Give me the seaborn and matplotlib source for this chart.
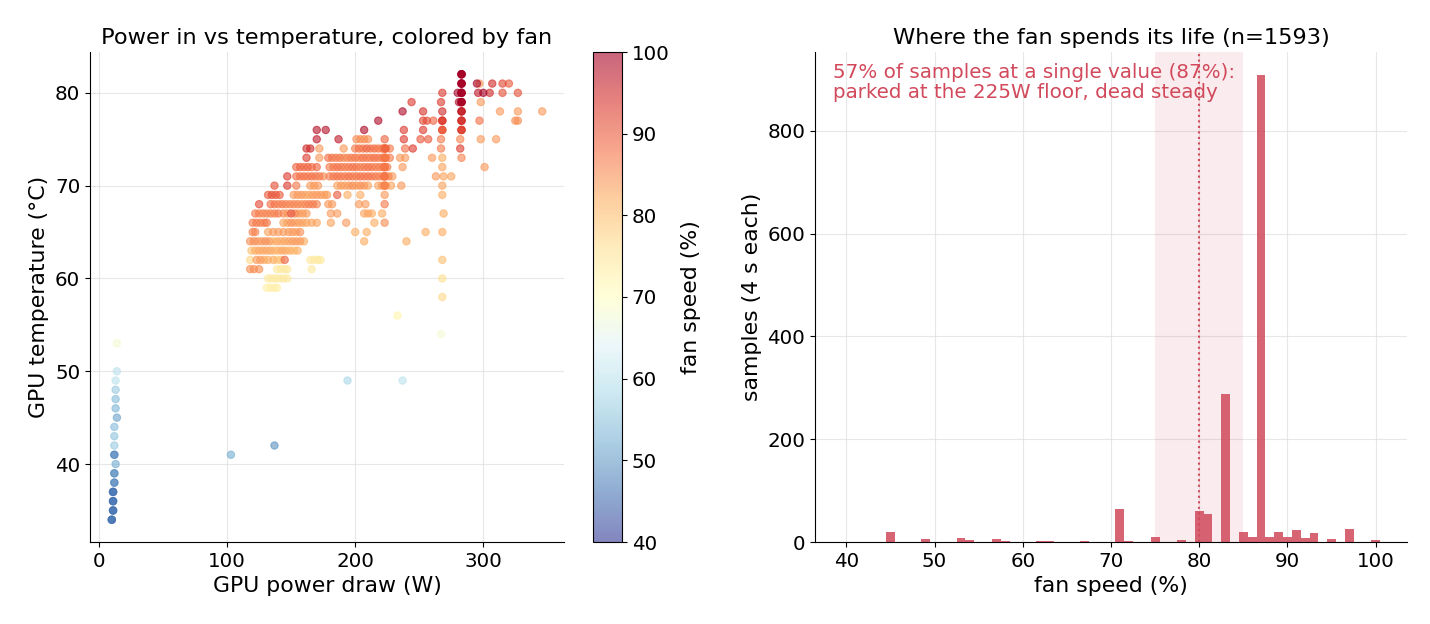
import numpy as np
import pandas as pd
import matplotlib
matplotlib.use("Agg")
import matplotlib.pyplot as plt
import seaborn as sns
from matplotlib.colors import ListedColormap, Normalize

# scatter: one row per temperature step, powers (W) and fan speeds (%)
row_temps = [82, 81, 80, 79, 78, 77, 76, 75, 74, 73, 72, 71, 70, 69, 68, 67, 66,
             65, 64, 63, 62, 61, 60, 59, 58, 56, 54]
row_powers = [
    [283],
    [283, 295, 297, 307, 315, 320],
    [268, 280, 283, 296, 300, 305, 315, 327],
    [244, 267, 281, 283, 298],
    [237, 253, 268, 283, 313, 327, 346],
    [218, 253, 256, 261, 268, 283, 297, 325, 327],
    [170, 177, 207, 238, 253, 268, 283],
    [170, 187, 201, 204, 207, 210, 223, 238, 251, 257, 267, 282, 298, 310],
    [162, 165, 172, 191, 200, 203, 206, 209, 212, 215, 218, 221, 224, 227, 239, 245, 267, 282],
    [162, 172, 179, 182, 185, 188, 191, 194, 197, 200, 203, 206, 209, 212, 215, 218, 221, 224,
     227, 235, 239, 260, 268, 283],
    [154, 157, 160, 163, 166, 170, 180, 183, 186, 189, 192, 195, 198, 201, 204, 207, 210, 213,
     216, 219, 222, 225, 237, 268, 301],
    [147, 154, 157, 160, 163, 166, 169, 172, 175, 180, 183, 186, 189, 192, 195, 198, 201, 204,
     207, 210, 213, 216, 219, 222, 226, 229, 263, 269, 275],
    [137, 147, 154, 165, 168, 171, 186, 189, 192, 195, 198, 201, 204, 207, 210, 218, 221, 224,
     228, 236, 268],
    [132, 135, 138, 141, 152, 155, 158, 161, 164, 167, 170, 173, 176, 178, 186, 194, 204, 223, 268],
    [125, 134, 137, 140, 143, 146, 149, 152, 155, 158, 161, 164, 167, 170, 179, 182, 203, 208, 223],
    [122, 125, 128, 131, 134, 137, 140, 144, 147, 150, 153, 156, 159, 162, 181, 186, 207, 210,
     213, 221, 269],
    [120, 123, 126, 129, 131, 144, 147, 150, 153, 156, 159, 162, 166, 170, 181, 193, 215, 223],
    [120, 122, 132, 136, 140, 144, 148, 151, 154, 157, 200, 209, 255, 268],
    [118, 121, 124, 127, 130, 133, 136, 139, 142, 145, 148, 151, 154, 157, 160, 207, 240],
    [119, 122, 125, 128, 131, 134, 137, 140, 143, 146, 149, 152, 155],
    [118, 123, 126, 129, 132, 136, 139, 142, 145, 165, 168, 171, 173, 268],
    [118, 121, 125, 139, 142, 145, 147, 166],
    [132, 135, 138, 141, 144, 147, 268],
    [131, 134, 137, 139],
    [268],
    [233],
    [267],
]
row_fans = [
    [100],
    [100, 100, 84, 95, 92, 90],
    [93, 100, 100, 97, 100, 95, 91, 91],
    [93, 93, 99, 100, 84],
    [99, 94, 95, 97, 84, 84, 84],
    [99, 92, 91, 89, 93, 95, 88, 85, 85],
    [98, 98, 99, 93, 93, 90, 93],
    [97, 97, 85, 85, 85, 85, 89, 93, 90, 90, 87, 86, 84, 84],
    [95, 95, 84, 84, 87, 88, 87, 89, 87, 88, 87, 87, 89, 87, 88, 93, 87, 93],
    [93, 84, 88, 87, 87, 87, 85, 86, 87, 87, 86, 88, 87, 87, 88, 87, 87, 86,
     87, 84, 84, 84, 82, 86],
    [89, 89, 88, 89, 88, 89, 87, 87, 88, 87, 87, 87, 88, 87, 87, 87, 88, 87,
     87, 87, 87, 87, 84, 83, 84],
    [93, 88, 87, 88, 87, 88, 87, 87, 85, 87, 87, 88, 87, 87, 88, 87, 87, 88,
     87, 88, 87, 87, 86, 87, 86, 84, 84, 83, 83],
    [91, 93, 87, 84, 84, 84, 83, 84, 83, 84, 85, 83, 85, 84, 83, 83, 84, 83,
     83, 84, 83],
    [90, 91, 90, 90, 84, 84, 84, 83, 83, 84, 84, 84, 83, 84, 90, 82, 82, 84, 82],
    [92, 88, 87, 86, 87, 86, 86, 86, 86, 85, 86, 87, 87, 86, 84, 84, 84, 84, 87],
    [87, 86, 86, 86, 86, 86, 87, 85, 84, 91, 86, 84, 84, 84, 84, 84, 83, 83,
     82, 82, 82],
    [87, 87, 87, 86, 87, 83, 83, 85, 83, 84, 83, 83, 83, 83, 83, 84, 82, 85],
    [86, 86, 83, 84, 84, 84, 84, 84, 83, 85, 82, 82, 82, 82],
    [85, 85, 84, 84, 85, 84, 80, 83, 82, 83, 83, 84, 84, 84, 82, 82, 82],
    [80, 82, 83, 83, 83, 83, 81, 82, 83, 82, 82, 80, 82],
    [77, 84, 84, 82, 82, 82, 78, 80, 89, 74, 74, 74, 74, 80],
    [85, 85, 85, 74, 74, 74, 74, 74],
    [74, 74, 74, 74, 74, 74, 76],
    [73, 73, 73, 73],
    [77],
    [72],
    [68],
]

# spots where many samples sit on top of each other (power, temp, fan, how many)
stack_power = [283, 283, 283, 283, 283, 283, 283, 223, 223, 223, 223, 223, 268, 268]
stack_temp = [82, 81, 80, 79, 78, 77, 76, 74, 73, 72, 71, 70, 77, 76]
stack_fan = [100, 100, 99, 98, 95, 93, 92, 88, 87, 87, 87, 86, 92, 90]
stack_n = [3, 3, 3, 3, 2, 2, 2, 3, 3, 3, 3, 2, 2, 2]

# idle / low-power samples (mostly near 12 W)
idle_power = [14, 14, 13, 13, 13, 13, 14, 12, 12, 12, 12, 13, 12, 12, 11, 11, 11, 10, 103, 137, 194, 237]
idle_temp = [53, 50, 49, 48, 47, 46, 45, 44, 43, 42, 41, 40, 39, 38, 37, 36, 35, 34, 41, 42, 49, 49]
idle_fan = [68, 60, 60, 56, 54, 53, 51, 54, 55, 56, 48, 52, 49, 48, 46, 46, 46, 46, 52, 49, 58, 60]
idle_n = [1, 1, 1, 1, 1, 1, 1, 1, 1, 1, 2, 1, 2, 2, 3, 3, 3, 3, 1, 1, 1, 1]

# histogram of fan speed (count of 4 s samples per integer %)
hist_fan = [45, 49, 53, 54, 57, 58, 62, 63, 67, 71, 72, 75, 78, 80, 81, 83, 85, 86, 87,
            88, 89, 90, 91, 92, 93, 95, 97, 100]
hist_count = [19, 5, 7, 3, 5, 2, 2, 2, 2, 65, 2, 10, 4, 61, 54, 288, 20, 10, 908,
              10, 20, 10, 23, 8, 18, 6, 25, 4]

RED = "#d1495b"

rows = []
for t, ps, fs in zip(row_temps, row_powers, row_fans):
    for p, f in zip(ps, fs):
        rows.append((p, t, f))
for p, t, f, k in zip(stack_power, stack_temp, stack_fan, stack_n):
    rows += [(p, t, f)] * k
for p, t, f, k in zip(idle_power, idle_temp, idle_fan, idle_n):
    rows += [(p, t, f)] * k
df = pd.DataFrame(rows, columns=["power", "temp", "fan"]).sort_values("fan", kind="stable")

hist_df = pd.DataFrame({"fan": hist_fan, "count": hist_count})
n_total = int(hist_df["count"].sum())

fig = plt.figure(figsize=(14.3, 6.24), dpi=100)
ax1 = fig.add_axes([90 / 1430, 82 / 624, 474 / 1430, 490 / 624])
cax = fig.add_axes([593 / 1430, 82 / 624, 29 / 1430, 490 / 624])
ax2 = fig.add_axes([815 / 1430, 82 / 624, 592 / 1430, 490 / 624])

FS = 14.3   # ticks
LS = 15.8   # axis labels
TS = 16.2   # titles

# --- left: scatter power vs temp
sns.scatterplot(data=df, x="power", y="temp", hue="fan", palette="RdYlBu_r",
                hue_norm=(40, 100), alpha=0.6, s=28, edgecolor="face", linewidth=0.8,
                legend=False, ax=ax1)
ax1.set_title("Power in vs temperature, colored by fan", fontsize=TS)
ax1.set_xlabel("GPU power draw (W)", fontsize=LS)
ax1.set_ylabel("GPU temperature (°C)", fontsize=LS)
ax1.set_xlim(-7, 363)
ax1.set_ylim(31.6, 84.4)
ax1.set_xticks([0, 100, 200, 300])
ax1.set_yticks([40, 50, 60, 70, 80])
ax1.tick_params(labelsize=FS)
ax1.grid(True, color="#dddddd", linewidth=0.8, alpha=0.7)
ax1.set_axisbelow(True)
sns.despine(ax=ax1)

cols = plt.get_cmap("RdYlBu_r")(np.linspace(0, 1, 256))
cols[:, 3] = 0.6
sm = plt.cm.ScalarMappable(cmap=ListedColormap(cols), norm=Normalize(40, 100))
cbar = fig.colorbar(sm, cax=cax)
cbar.set_label("fan speed (%)", fontsize=LS, labelpad=8)
cbar.ax.tick_params(labelsize=FS)

# --- right: histogram of fan speed
sns.histplot(data=hist_df, x="fan", weights="count", binwidth=1, binrange=(39.5, 100.5),
             color=RED, alpha=0.85, linewidth=0, ax=ax2)
ax2.axvspan(75, 85, color=RED, alpha=0.1, linewidth=0)
ax2.axvline(80, color=RED, linestyle=":", linewidth=1.5)
ax2.set_title(f"Where the fan spends its life (n={n_total})", fontsize=TS)
ax2.set_xlabel("fan speed (%)", fontsize=LS)
ax2.set_ylabel("samples (4 s each)", fontsize=LS)
ax2.set_yticks([0, 200, 400, 600, 800])
ax2.tick_params(labelsize=FS)
ax2.grid(True, color="#dddddd", linewidth=0.8, alpha=0.7)
ax2.set_axisbelow(True)
sns.despine(ax=ax2)
share = hist_df["count"].max() / n_total
ax2.text(0.03, 0.977,
         f"{share:.0%} of samples at a single value (87%):\nparked at the 225W floor, dead steady",
         transform=ax2.transAxes, ha="left", va="top", color=RED, fontsize=14.3,
         linespacing=1.05)

fig.savefig("out.png", dpi=100)
